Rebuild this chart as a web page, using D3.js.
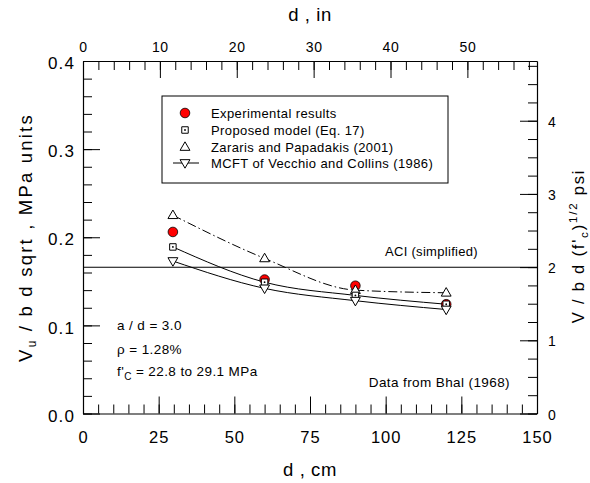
<!DOCTYPE html>
<html>
<head>
<meta charset="utf-8">
<script src="https://cdn.jsdelivr.net/npm/d3@7"></script>
<style>
body { margin: 0; background: #fff; }
text { font-family: "Liberation Sans", Arial, Helvetica, sans-serif; fill: #000; }
</style>
</head>
<body>
<div id="chart"></div>
<script>
// values (Bhal 1968 data, a/d = 3.0)
const depthCm = [29.7, 60, 90, 120];
const experimental = [0.206, 0.152, 0.145, 0.124];
const proposed = [0.189, 0.149, 0.134, 0.124];
const zararis = [0.225, 0.176, 0.140, 0.137];
const mcft = [0.173, 0.142, 0.128, 0.118];
const aciValue = 0.166;

const cmTicks = [0, 25, 50, 75, 100, 125, 150];
const inchTicks = [0, 10, 20, 30, 40, 50];
const mpaTicks = [0, 0.1, 0.2, 0.3, 0.4];
const psiTicks = [0, 1, 2, 3, 4];
const cmPerInch = 2.54;
const psiPerMpa = 12.04;

const legendLabels = [
    "Experimental results",
    "Proposed model (Eq. 17)",
    "Zararis and Papadakis (2001)",
    "MCFT of Vecchio and Collins (1986)"
];

let margin = {top: 61, right: 53, bottom: 69.5, left: 83};
let width = 590 - margin.left - margin.right;
let height = 483 - margin.top - margin.bottom;

let svg = d3.select("#chart").append("svg")
    .attr("width", 590)
    .attr("height", 483);

let g = svg.append("g")
    .attr("transform", "translate(" + margin.left + "," + margin.top + ")");

let x = d3.scaleLinear().domain([0, 150]).range([0, width]);
let xIn = d3.scaleLinear().domain([0, 150 / cmPerInch]).range([0, width]);
let y = d3.scaleLinear().domain([0, 0.4]).range([height, 0]);
let yPsi = d3.scaleLinear().domain([0, 0.4 * psiPerMpa]).range([height, 0]);

// minor ticks first, then major ticks with labels
function addAxis(axis, tx, ty, fontSize, spacing, keepDomain) {
    let a = g.append("g")
        .attr("transform", "translate(" + tx + "," + ty + ")")
        .call(axis);
    a.selectAll("line").attr("stroke", "#000");
    a.selectAll("text")
        .attr("font-size", fontSize)
        .attr("letter-spacing", spacing)
        .style("font-family", null);
    if (keepDomain) {
        a.select(".domain").attr("stroke", "#000").attr("stroke-width", 1.2);
    } else {
        a.select(".domain").remove();
    }
    return a;
}

addAxis(d3.axisBottom(x).tickValues(d3.range(0, 151, 5)).tickSize(-9).tickFormat(""), 0, height, 0, 0, false);
addAxis(d3.axisTop(xIn).tickValues(d3.range(0, 59, 2)).tickSize(-9).tickFormat(""), 0, 0, 0, 0, false);
addAxis(d3.axisLeft(y).tickValues(d3.range(0, 0.401, 0.02)).tickSize(-9).tickFormat(""), 0, 0, 0, 0, false);
addAxis(d3.axisRight(yPsi).tickValues(d3.range(0, 4.8, 0.25)).tickSize(-9).tickFormat(""), width, 0, 0, 0, false);

addAxis(d3.axisBottom(x).tickValues(cmTicks).tickSizeInner(-17).tickSizeOuter(0).tickPadding(18), 0, height, 16.5, 1, true);
addAxis(d3.axisTop(xIn).tickValues(inchTicks).tickSizeInner(-17).tickSizeOuter(0).tickPadding(9), 0, 0, 14, 0.6, true);
addAxis(d3.axisLeft(y).tickValues(mpaTicks).tickFormat(d3.format(".1f")).tickSizeInner(-17).tickSizeOuter(0).tickPadding(8), 0, 0, 17, 1.1, true)
    .selectAll("text").attr("dy", "0.45em");
addAxis(d3.axisRight(yPsi).tickValues(psiTicks).tickFormat(d3.format("d")).tickSizeInner(-17).tickSizeOuter(0).tickPadding(11), width, 0, 14, 0, true)
    .selectAll("text").attr("dy", "0.4em");

// axis titles
svg.append("text")
    .attr("x", margin.left + width / 2)
    .attr("y", 21)
    .attr("text-anchor", "middle")
    .attr("font-size", 18.5)
    .attr("letter-spacing", 0.6)
    .text("d , in");

svg.append("text")
    .attr("x", margin.left + width / 2)
    .attr("y", 476)
    .attr("text-anchor", "middle")
    .attr("font-size", 18.5)
    .attr("letter-spacing", 0.6)
    .text("d , cm");

let leftTitle = svg.append("text")
    .attr("transform", "translate(32,237.5) rotate(-90)")
    .attr("text-anchor", "middle")
    .attr("font-size", 18.5)
    .attr("letter-spacing", 2.2);
leftTitle.append("tspan").text("V");
leftTitle.append("tspan").attr("font-size", 12).attr("dy", 4).text("u");
leftTitle.append("tspan").attr("dy", -4).text(" / b d sqrt , MPa units");

let rightTitle = svg.append("text")
    .attr("transform", "translate(584,246) rotate(-90)")
    .attr("text-anchor", "middle")
    .attr("font-size", 16.5)
    .attr("letter-spacing", 1.8);
rightTitle.append("tspan").text("V / b d (f'");
rightTitle.append("tspan").attr("font-size", 11.5).attr("dy", 4).text("c");
rightTitle.append("tspan").attr("dy", -4).text(")");
rightTitle.append("tspan").attr("font-size", 11.5).attr("dy", -7).text("1/2");
rightTitle.append("tspan").attr("dy", 7).text(" psi");

// ACI line
g.append("line")
    .attr("x1", 0).attr("x2", width)
    .attr("y1", y(aciValue)).attr("y2", y(aciValue))
    .attr("stroke", "#000").attr("stroke-width", 1.1);

g.append("text")
    .attr("x", 302).attr("y", y(aciValue) - 11)
    .attr("font-size", 13)
    .attr("letter-spacing", 0.3)
    .text("ACI (simplified)");

// curves
let series = [
    {values: zararis, dash: "9,3,1.5,3", curve: d3.curveMonotoneX},
    {values: proposed, dash: null, curve: d3.curveMonotoneX},
    {values: mcft, dash: null, curve: d3.curveMonotoneX}
];

series.forEach(s => {
    let line = d3.line()
        .x((d, i) => x(depthCm[i]))
        .y(d => y(d))
        .curve(s.curve);
    g.append("path")
        .datum(s.values)
        .attr("d", line)
        .attr("fill", "none")
        .attr("stroke", "#000")
        .attr("stroke-width", 1)
        .attr("stroke-dasharray", s.dash);
});

let triUp = d3.symbol().type(d3.symbolTriangle).size(42);
let square = d3.symbol().type(d3.symbolSquare).size(42);

function drawCircle(sel, cx, cy) {
    sel.append("circle").attr("cx", cx).attr("cy", cy).attr("r", 4.8)
        .attr("fill", "#f00").attr("stroke", "#000").attr("stroke-width", 0.8);
}
function drawSquare(sel, cx, cy) {
    sel.append("path").attr("d", square())
        .attr("transform", "translate(" + cx + "," + cy + ")")
        .attr("fill", "#fff").attr("stroke", "#000").attr("stroke-width", 1);
    sel.append("circle").attr("cx", cx).attr("cy", cy).attr("r", 0.9).attr("fill", "#000");
}
function drawTriUp(sel, cx, cy) {
    sel.append("path").attr("d", triUp())
        .attr("transform", "translate(" + cx + "," + (cy + 0.5) + ")")
        .attr("fill", "#fff").attr("stroke", "#000").attr("stroke-width", 1);
}
function drawTriDown(sel, cx, cy) {
    sel.append("path").attr("d", triUp())
        .attr("transform", "translate(" + cx + "," + (cy - 0.5) + ") rotate(180)")
        .attr("fill", "#fff").attr("stroke", "#000").attr("stroke-width", 1);
}

let marks = g.append("g");
experimental.forEach((v, i) => drawCircle(marks, x(depthCm[i]), y(v)));
zararis.forEach((v, i) => drawTriUp(marks, x(depthCm[i]), y(v)));
proposed.forEach((v, i) => drawSquare(marks, x(depthCm[i]), y(v)));
mcft.forEach((v, i) => drawTriDown(marks, x(depthCm[i]), y(v)));

// legend
let legend = svg.append("g").attr("transform", "translate(162,96)");
legend.append("rect")
    .attr("width", 286).attr("height", 87)
    .attr("fill", "#fff").attr("stroke", "#000").attr("stroke-width", 1);

let rowY = [17, 34, 51, 67];
legendLabels.forEach((label, i) => {
    legend.append("text")
        .attr("x", 49).attr("y", rowY[i] + 4.5)
        .attr("font-size", 13)
        .attr("letter-spacing", 0.4)
        .text(label);
});
drawCircle(legend, 23, rowY[0]);
drawSquare(legend, 23, rowY[1]);
drawTriUp(legend, 23, rowY[2]);
legend.append("line")
    .attr("x1", 11).attr("x2", 37)
    .attr("y1", rowY[3]).attr("y2", rowY[3])
    .attr("stroke", "#000");
drawTriDown(legend, 23, rowY[3]);

// notes
let notes = g.append("g").attr("font-size", 13.5).attr("letter-spacing", 0.4);
notes.append("text").attr("x", 34).attr("y", 269).text("a / d = 3.0");
notes.append("text").attr("x", 34).attr("y", 293).text("\u03c1 = 1.28%");
let fc = notes.append("text").attr("x", 34).attr("y", 315);
fc.append("tspan").text("f'");
fc.append("tspan").attr("font-size", 10).attr("dy", 4).text("C");
fc.append("tspan").attr("dy", -4).text(" = 22.8 to 29.1 MPa");
notes.append("text").attr("x", 427).attr("y", 326).attr("text-anchor", "end").text("Data from Bhal (1968)");
</script>
</body>
</html>
